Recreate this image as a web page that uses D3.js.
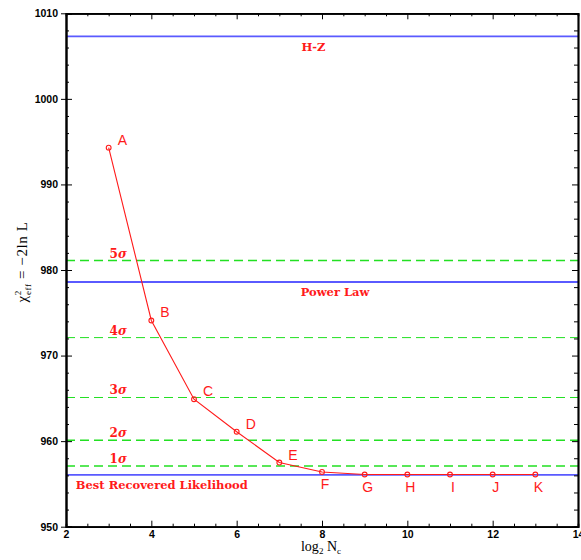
<!DOCTYPE html>
<html>
<head>
<meta charset="utf-8">
<script src="https://cdn.jsdelivr.net/npm/d3@7"></script>
<style>
  body { margin: 0; background: #fff; }
  svg { display: block; }
</style>
</head>
<body>
<script>
"use strict";
// values
const letters = ["A", "B", "C", "D", "E", "F", "G", "H", "I", "J", "K"];
const log2Nc = [3, 4, 5, 6, 7, 8, 9, 10, 11, 12, 13];
const chi2 = [994.3, 974.1, 964.9, 961.1, 957.5, 956.4, 956.1, 956.1, 956.1, 956.1, 956.1];
const sigmaNames = ["1", "2", "3", "4", "5"];
const sigmaLevels = [957.1, 960.1, 965.1, 972.1, 981.1];
const modelNames = ["H-Z", "Power Law", "Best Recovered Likelihood"];
const modelLevels = [1007.3, 978.6, 956.05];

function app() {
	const w = 581, h = 560;
	const x = d3.scaleLinear().domain([2, 14]).range([66, 578]);
	const y = d3.scaleLinear().domain([950, 1010]).range([526.7, 13.3]);
	const svg = d3.select("body").append("svg").attr("width", w).attr("height", h);

	const red = "#ff1a1a", green = "#22e022", blue = "#5a5aff";

	// sigma lines
	svg.selectAll("line.sigma").data(sigmaLevels).enter().append("line")
		.attr("class", "sigma")
		.attr("x1", x(2)).attr("x2", x(14))
		.attr("y1", d => y(d)).attr("y2", d => y(d))
		.attr("stroke", green)
		.attr("stroke-width", (d, i) => (i === 2 || i === 3) ? 1 : 1.5)
		.attr("stroke-dasharray", "9,5");

	svg.selectAll("text.sigma").data(sigmaLevels).enter().append("text")
		.attr("class", "sigma")
		.attr("x", x(3.02)).attr("y", d => y(d) - 3)
		.attr("fill", red).attr("font-family", "DejaVu Serif").attr("font-weight", "bold").attr("font-size", 12)
		.each(function(d, i) {
			const t = d3.select(this);
			t.append("tspan").text(sigmaNames[i]);
			t.append("tspan").attr("font-style", "italic").text("σ");
		});

	// model lines
	svg.selectAll("line.model").data(modelLevels).enter().append("line")
		.attr("class", "model")
		.attr("x1", x(2)).attr("x2", x(14))
		.attr("y1", d => y(d)).attr("y2", d => y(d))
		.attr("stroke", blue).attr("stroke-width", 1.8);

	const modelX = [7.8, 7.5, 2.23];
	const modelAnchor = ["middle", "start", "start"];
	svg.selectAll("text.model").data(modelLevels).enter().append("text")
		.attr("class", "model")
		.attr("x", (d, i) => x(modelX[i])).attr("y", d => y(d) + 14.5)
		.attr("text-anchor", (d, i) => modelAnchor[i])
		.attr("fill", red).attr("font-family", "DejaVu Serif").attr("font-weight", "bold").attr("font-size", 11.5)
		.text((d, i) => modelNames[i]);

	// curve
	const pts = log2Nc.map((v, i) => [v, chi2[i]]);
	svg.append("path").datum(pts)
		.attr("d", d3.line().x(d => x(d[0])).y(d => y(d[1])))
		.attr("fill", "none").attr("stroke", red).attr("stroke-width", 1.1);
	svg.selectAll("circle.pt").data(pts).enter().append("circle")
		.attr("class", "pt")
		.attr("cx", d => x(d[0])).attr("cy", d => y(d[1])).attr("r", 2.4)
		.attr("fill", "none").attr("stroke", red).attr("stroke-width", 1.1);
	svg.selectAll("text.pt").data(pts).enter().append("text")
		.attr("class", "pt")
		.attr("x", (d, i) => i < 5 ? x(d[0]) + 9 : x(d[0]) + 3)
		.attr("y", (d, i) => i < 5 ? y(d[1]) - 3 : y(d[1]) + 17)
		.attr("text-anchor", (d, i) => i < 5 ? "start" : "middle")
		.attr("fill", red).attr("font-family", "Liberation Sans, Arial, sans-serif").attr("font-size", 14)
		.text((d, i) => letters[i]);

	// axes: major and minor ticks on all four sides, pointing inward
	const xMajor = d3.range(2, 14.01, 2), xMinor = d3.range(2, 14.01, 0.5).filter(v => v % 2 !== 0);
	const yMajor = d3.range(950, 1010.01, 10), yMinor = d3.range(950, 1010.01, 2).filter(v => v % 10 !== 0);
	const frame = svg.append("g").attr("font-family", "Liberation Sans, Arial, sans-serif");

	const bottom = frame.append("g").attr("transform", "translate(0," + y(950) + ")");
	bottom.call(d3.axisBottom(x).tickValues(xMajor).tickSizeInner(-6).tickSizeOuter(0).tickPadding(4).tickFormat(d3.format("d")));
	bottom.append("g").call(d3.axisBottom(x).tickValues(xMinor).tickSize(-3).tickFormat(""));
	const top = frame.append("g").attr("transform", "translate(0," + y(1010) + ")");
	top.call(d3.axisTop(x).tickValues(xMajor).tickSizeInner(-6).tickSizeOuter(0).tickFormat(""));
	top.append("g").call(d3.axisTop(x).tickValues(xMinor).tickSize(-3).tickFormat(""));

	const left = frame.append("g").attr("transform", "translate(" + x(2) + ",0)");
	left.call(d3.axisLeft(y).tickValues(yMajor).tickSizeInner(5).tickSizeOuter(0).tickPadding(3).tickFormat(d3.format("d")));
	left.append("g").call(d3.axisRight(y).tickValues(yMajor).tickSize(6).tickFormat(""));
	left.append("g").call(d3.axisLeft(y).tickValues(yMinor).tickSize(-3).tickFormat(""));
	const right = frame.append("g").attr("transform", "translate(" + x(14) + ",0)");
	right.call(d3.axisRight(y).tickValues(yMajor).tickSizeInner(-6).tickSizeOuter(0).tickFormat(""));
	right.append("g").call(d3.axisRight(y).tickValues(yMinor).tickSize(-4).tickFormat(""));

	frame.selectAll(".domain").attr("stroke", "#000").attr("stroke-width", 1.7);
	frame.selectAll(".tick line").attr("stroke", "#000").attr("stroke-width", 1);
	frame.selectAll(".tick text").attr("fill", "#000").attr("font-size", 10.5).attr("font-weight", "bold");

	// axis titles
	const xt = svg.append("text").attr("x", 321).attr("y", 551).attr("text-anchor", "middle")
		.attr("font-family", "Liberation Serif, serif").attr("font-size", 14);
	xt.append("tspan").text("log");
	xt.append("tspan").attr("font-size", 9).attr("dy", 3).text("2");
	xt.append("tspan").attr("dy", -3).text(" N");
	xt.append("tspan").attr("font-size", 9).attr("dy", 3).text("c");

	const yt = svg.append("text").attr("transform", "translate(27,262) rotate(-90)").attr("text-anchor", "middle")
		.attr("font-family", "Liberation Serif, serif").attr("font-size", 15).attr("letter-spacing", 0.6);
	yt.append("tspan").text("χ");
	yt.append("tspan").attr("font-size", 9).attr("dy", -6).text("2");
	yt.append("tspan").attr("font-size", 9).attr("dx", -5).attr("dy", 10).text("eff");
	yt.append("tspan").attr("dy", -4).text(" = −2ln L");
}

app();
</script>
</body>
</html>
